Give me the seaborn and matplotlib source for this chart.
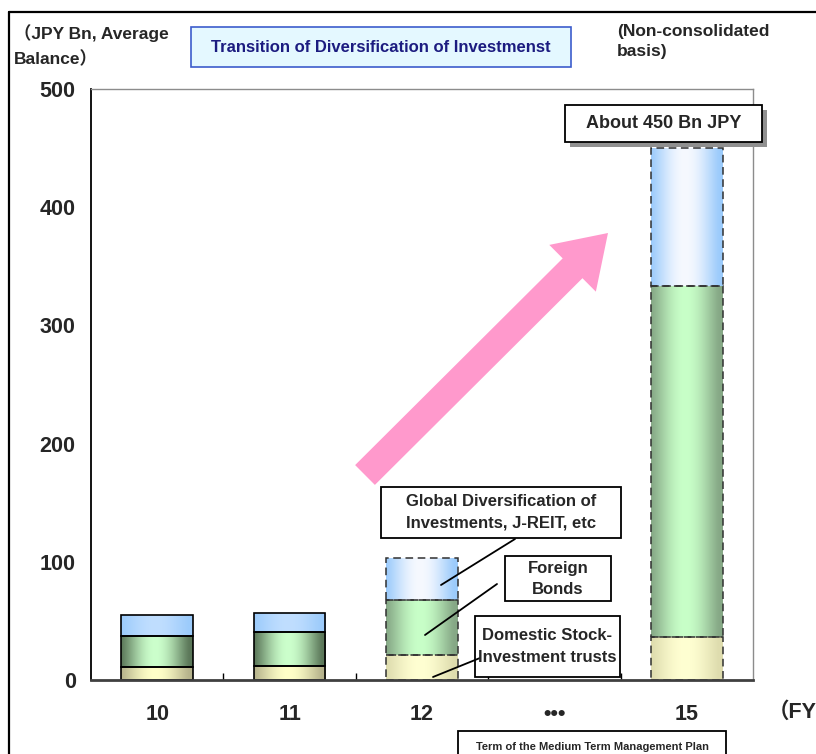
import numpy as np
import pandas as pd
import matplotlib
matplotlib.use("Agg")
import matplotlib.pyplot as plt
import seaborn as sns
from matplotlib.patches import Rectangle, FancyArrow
from matplotlib.lines import Line2D
from matplotlib.colors import to_rgb

# --- data (JPY Bn, average balance) ---
fiscal_years = ["10", "11", "12", "•••", "15"]
plot_years = ["10", "11", "12", "15"]
domestic_stock_trusts = [11, 12, 21, 36]
foreign_bonds = [26, 29, 47, 297]
global_diversified = [18, 16, 35, 117]
plan_years = ["12", "15"]          # medium-term plan targets, dashed outline
y_ticks = [0, 100, 200, 300, 400, 500]

df = pd.DataFrame({
    "fy": plot_years,
    "domestic": domestic_stock_trusts,
    "foreign": foreign_bonds,
    "global": global_diversified,
})
df["cum_domestic"] = df["domestic"]
df["cum_foreign"] = df["cum_domestic"] + df["foreign"]
df["cum_global"] = df["cum_foreign"] + df["global"]

# (edge colour, centre colour) of the cylinder-like shading
shade_actual = {
    "global": ("#9ccbfb", "#c0deff"),
    "foreign": ("#5c785a", "#ccffcc"),
    "domestic": ("#b6b38c", "#ffffc8"),
}
shade_plan = {
    "global": ("#9ccbfb", "#f6f9ff"),
    "foreign": ("#86a886", "#c8ffc8"),
    "domestic": ("#dedcae", "#ffffd2"),
}

W, H = 816, 754
sns.set_theme(style="white")
plt.rcParams["font.family"] = ["Liberation Sans", "Noto Sans CJK JP", "DejaVu Sans"]
plt.rcParams["font.weight"] = "bold"

fig = plt.figure(figsize=(W / 100, H / 100), dpi=100)
ax = fig.add_axes([91 / W, 1 - 680 / H, (753 - 91) / W, (680 - 89) / H])


def fx(x):
    return x / W


def fy(y):
    return 1 - y / H


# stacked bars: draw cumulative heights, then cut each rectangle to its own segment
layers = [("global", "cum_global", "cum_foreign"),
          ("foreign", "cum_foreign", "cum_domestic"),
          ("domestic", "cum_domestic", None)]
segments = []
for name, top_col, bottom_col in layers:
    n0 = len(ax.patches)
    sns.barplot(data=df, x="fy", y=top_col, order=fiscal_years, width=0.54,
                errorbar=None, color="white", ax=ax)
    for p in ax.patches[n0:]:
        h = p.get_height()
        if not np.isfinite(h) or h == 0:
            continue
        idx = int(round(p.get_x() + p.get_width() / 2))
        year = fiscal_years[idx]
        row = df[df["fy"] == year].iloc[0]
        bottom = row[bottom_col] if bottom_col else 0
        p.set_y(bottom)
        p.set_height(row[top_col] - bottom)
        segments.append((p, name, year))

t = np.linspace(0, 1, 256)
profile = np.sin(np.pi * np.clip(t * 1.05, 0, 1)) ** 1.2
for p, name, year in segments:
    planned = year in plan_years
    edge_c, centre_c = (shade_plan if planned else shade_actual)[name]
    e, c = np.array(to_rgb(edge_c)), np.array(to_rgb(centre_c))
    img = e[None, None, :] + (c - e)[None, None, :] * profile[None, :, None]
    x0, y0 = p.get_x(), p.get_y()
    im = ax.imshow(img, extent=[x0, x0 + p.get_width(), y0, y0 + p.get_height()],
                   aspect="auto", origin="lower", zorder=1, interpolation="bilinear")
    im.set_clip_path(p)
    p.set_facecolor("none")
    p.set_zorder(2)
    if planned:
        p.set_edgecolor("#303030")
        p.set_linewidth(1.1)
        p.set_linestyle((0, (5, 3)))
    else:
        p.set_edgecolor("black")
        p.set_linewidth(1.2)

ax.set_xlim(-0.5, len(fiscal_years) - 0.5)
ax.set_ylim(0, 500)
ax.set_xlabel("")
ax.set_ylabel("")
ax.set_yticks(y_ticks)
ax.set_yticklabels([str(v) for v in y_ticks], fontsize=15.5, fontweight="bold")
ax.set_xticks(range(len(fiscal_years)))
ax.set_xticklabels(fiscal_years, fontsize=15.5, fontweight="bold")
ax.set_xticks(np.arange(0.5, len(fiscal_years) - 0.5, 1), minor=True)
ax.tick_params(axis="x", which="major", length=0, pad=17)
ax.tick_params(axis="x", which="minor", direction="in", length=5, width=1, color="black", bottom=True)
ax.tick_params(axis="y", which="major", length=0, pad=11)

for side, col, lw in [("left", "black", 1.3), ("bottom", "#404040", 2.0),
                      ("top", "#8c8c8c", 1.0), ("right", "#8c8c8c", 1.0)]:
    ax.spines[side].set_visible(True)
    ax.spines[side].set_color(col)
    ax.spines[side].set_linewidth(lw)

# outer frame
fig.add_artist(Line2D([fx(9), fx(9)], [fy(12), fy(H + 5)], color="black", lw=1.6))
fig.add_artist(Line2D([fx(9), fx(W + 5)], [fy(12), fy(12)], color="black", lw=1.6))

# header texts
fig.text(fx(14), fy(24), "（JPY Bn, Average\nBalance）", ha="left", va="top",
         fontsize=12.5, fontweight="bold", linespacing=1.6)
fig.text(fx(617), fy(24), "(Non-consolidated\nbasis)", ha="left", va="top",
         fontsize=12.5, fontweight="bold", linespacing=1.45)
fig.add_artist(Rectangle((fx(191), fy(67)), fx(571 - 191), (67 - 27) / H,
                         transform=fig.transFigure, facecolor="#e4f8ff",
                         edgecolor="#3c5ccc", lw=1.2))
fig.text(fx(381), fy(47), "Transition of Diversification of Investmenst",
         ha="center", va="center", fontsize=12, fontweight="bold", color="#1c1c80")


def label_box(x0, y0, x1, y1, text, size=12, shadow=False, spacing=1.5):
    if shadow:
        fig.add_artist(Rectangle((fx(x0 + 5), fy(y1 + 5)), fx(x1 - x0), (y1 - y0) / H,
                                 transform=fig.transFigure, facecolor="#909090",
                                 edgecolor="none"))
    fig.add_artist(Rectangle((fx(x0), fy(y1)), fx(x1 - x0), (y1 - y0) / H,
                             transform=fig.transFigure, facecolor="white",
                             edgecolor="black", lw=1.3))
    fig.text(fx((x0 + x1) / 2), fy((y0 + y1) / 2), text, ha="center", va="center",
             fontsize=size, fontweight="bold", linespacing=spacing)


def leader(x0, y0, x1, y1):
    fig.add_artist(Line2D([fx(x0), fx(x1)], [fy(y0), fy(y1)], color="black", lw=1.3))


# growth arrow
fig.add_artist(FancyArrow(3.65, (H - 475) / 100, 2.43, 2.42, width=0.28,
                          head_width=0.66, head_length=0.50, length_includes_head=True,
                          transform=fig.dpi_scale_trans, color="#ff99cc", lw=0))

label_box(565, 105, 762, 142, "About 450 Bn JPY", size=13, shadow=True)
label_box(381, 487, 621, 538, "Global Diversification of\nInvestments, J-REIT, etc")
label_box(505, 556, 611, 601, "Foreign\nBonds")
label_box(475, 616, 620, 677, "Domestic Stock-\nInvestment trusts", spacing=1.55)
leader(515, 539, 441, 585)
leader(497, 584, 425, 635)
leader(480, 658, 433, 677)

fig.text(fx(768), fy(712), "（FY", ha="left", va="center", fontsize=15.5, fontweight="bold")
label_box(458, 731, 726, 762, "Term of the Medium Term Management Plan", size=8)

fig.savefig("out.png", dpi=100)
